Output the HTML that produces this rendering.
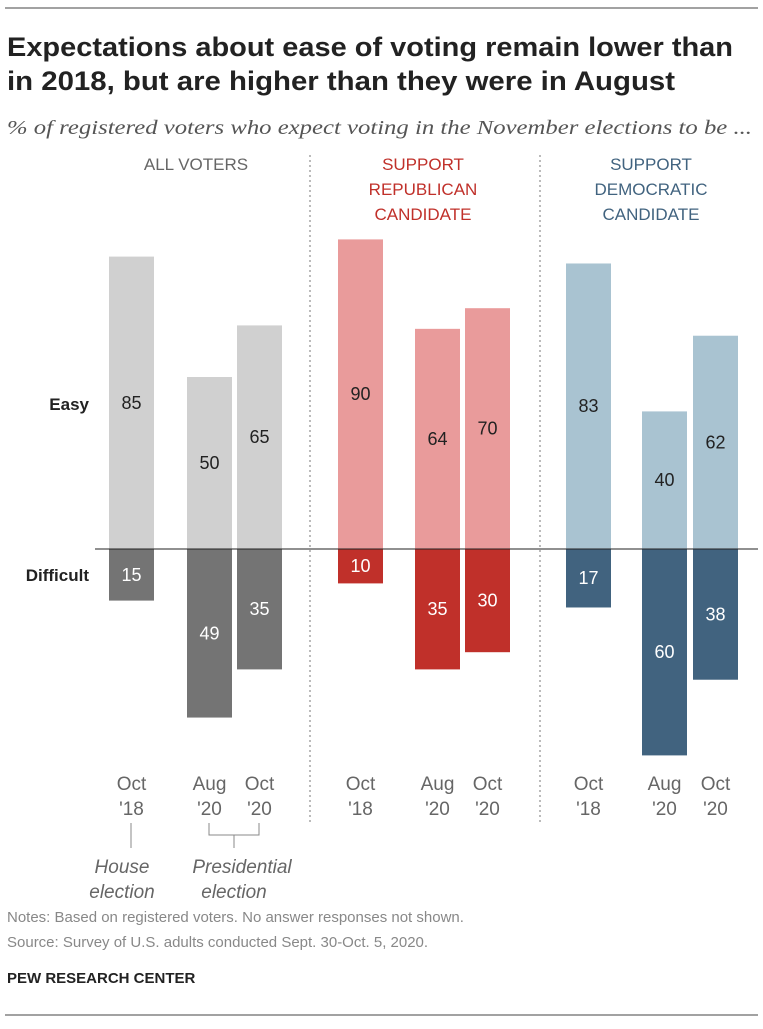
<!DOCTYPE html>
<html><head><meta charset="utf-8"><style>
body{margin:0;background:#fff;font-family:"Liberation Sans",sans-serif;}
</style></head><body>
<svg width="763" height="1024" xmlns="http://www.w3.org/2000/svg" font-family="Liberation Sans, sans-serif">
<line x1="5" y1="8" x2="758" y2="8" stroke="#444" stroke-width="1"/>
<text x="7" y="56" font-size="27" font-weight="bold" fill="#222" textLength="726" lengthAdjust="spacingAndGlyphs">Expectations about ease of voting remain lower than</text>
<text x="7" y="90" font-size="27" font-weight="bold" fill="#222" textLength="668" lengthAdjust="spacingAndGlyphs">in 2018, but are higher than they were in August</text>
<text x="7" y="134" font-size="20" font-style="italic" fill="#555" font-family="Liberation Serif, serif" textLength="745" lengthAdjust="spacingAndGlyphs">% of registered voters who expect voting in the November elections to be ...</text>
<g id="heads" font-size="17" text-anchor="middle">
<text x="196" y="170" fill="#666">ALL VOTERS</text>
<g fill="#c0302a"><text x="423" y="170">SUPPORT</text><text x="423" y="195">REPUBLICAN</text><text x="423" y="220">CANDIDATE</text></g>
<g fill="#41637f"><text x="651" y="170">SUPPORT</text><text x="651" y="195">DEMOCRATIC</text><text x="651" y="220">CANDIDATE</text></g>
</g>
<line x1="310" y1="155" x2="310" y2="825" stroke="#777" stroke-dasharray="2,3"/>
<line x1="540" y1="155" x2="540" y2="825" stroke="#777" stroke-dasharray="2,3"/>
<text x="89" y="410" font-size="17" font-weight="bold" text-anchor="end" fill="#222">Easy</text>
<text x="89" y="581" font-size="17" font-weight="bold" text-anchor="end" fill="#222">Difficult</text>
<g id="bars"></g>
<line x1="95" y1="549" x2="758" y2="549" stroke="#222" stroke-width="1"/>
<g id="xlabels" font-size="19" fill="#666" text-anchor="middle"></g>
<g fill="#666" font-size="19" font-style="italic" text-anchor="middle">
<line x1="131" y1="823" x2="131" y2="848" stroke="#888"/>
<path d="M209 823 V835 H259 V823 M234 835 V848" fill="none" stroke="#888"/>
<text x="122" y="873"><tspan x="122">House</tspan><tspan x="122" dy="25">election</tspan></text>
<text x="242" y="873"><tspan x="242">Presidential</tspan><tspan x="234" dy="25">election</tspan></text>
</g>
<text x="7" y="922" font-size="15" fill="#888">Notes: Based on registered voters. No answer responses not shown.</text>
<text x="7" y="947" font-size="15" fill="#888">Source: Survey of U.S. adults conducted Sept. 30-Oct. 5, 2020.</text>
<text x="7" y="983" font-size="15" font-weight="bold" fill="#222">PEW RESEARCH CENTER</text>
<line x1="5" y1="1015" x2="758" y2="1015" stroke="#444"/>
</svg>
<script>
const categories=["Oct '18","Aug '20","Oct '20"];
const groups=["all","rep","dem"];
const easyAll=[85,50,65];
const diffAll=[15,49,35];
const easyRep=[90,64,70];
const diffRep=[10,35,30];
const easyDem=[83,40,62];
const diffDem=[17,60,38];
const easyVals=[easyAll,easyRep,easyDem];
const diffVals=[diffAll,diffRep,diffDem];
const base=549, scale=3.44, bw=45;
const xPos=[[109,187,237],[338,415,465],[566,642,693]];
const lightC=["#d0d0d0","#e99b9b","#a9c3d1"], darkC=["#747474","#c0302a","#41637f"];
const y=v=>v*scale;
const ns="http://www.w3.org/2000/svg";
const bars=document.getElementById('bars'), xl=document.getElementById('xlabels');
groups.forEach((g,gi)=>{
 categories.forEach((c,ci)=>{
  const x=xPos[gi][ci], e=easyVals[gi][ci], d=diffVals[gi][ci];
  let r=document.createElementNS(ns,'rect');
  r.setAttribute('x',x);r.setAttribute('y',base-y(e));r.setAttribute('width',bw);r.setAttribute('height',y(e));r.setAttribute('fill',lightC[gi]);
  
  
  bars.appendChild(r);
  let r2=document.createElementNS(ns,'rect');
  r2.setAttribute('x',x);r2.setAttribute('y',base);r2.setAttribute('width',bw);r2.setAttribute('height',y(d));r2.setAttribute('fill',darkC[gi]);
  
  
  bars.appendChild(r2);
  let t=document.createElementNS(ns,'text');
  t.setAttribute('x',x+bw/2);t.setAttribute('y',base-y(e)/2+6);t.setAttribute('text-anchor','middle');t.setAttribute('font-size','18');t.setAttribute('fill','#222');t.textContent=e;
  
  
  bars.appendChild(t);
  let t2=document.createElementNS(ns,'text');
  t2.setAttribute('x',x+bw/2);t2.setAttribute('y',base+y(d)/2+6);t2.setAttribute('text-anchor','middle');t2.setAttribute('font-size','18');t2.setAttribute('fill','#fff');t2.textContent=d;
  
  
  bars.appendChild(t2);
  const parts=c.split(' ');
  let l=document.createElementNS(ns,'text');
  l.setAttribute('x',x+bw/2);l.setAttribute('y',790);
  l.innerHTML='<tspan x="'+(x+bw/2)+'">'+parts[0]+'</tspan><tspan x="'+(x+bw/2)+'" dy="25">'+parts[1]+'</tspan>';
  
  
  xl.appendChild(l);
 });
});
</script>
</body></html>
